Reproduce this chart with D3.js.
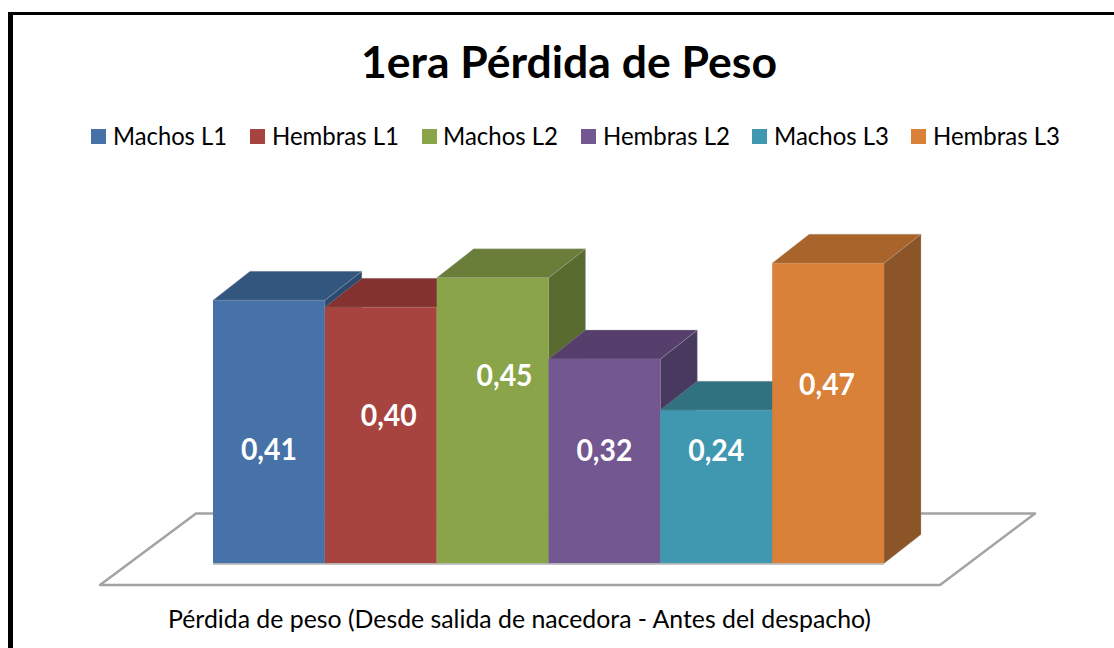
<!DOCTYPE html>
<html><head><meta charset="utf-8">
<script src="https://cdn.jsdelivr.net/npm/d3@7"></script>
<style>html,body{margin:0;padding:0;background:#fff}svg{display:block}text{font-family:Lato,"Open Sans",sans-serif}</style>
</head><body><svg id="c" width="1114" height="648"></svg>
<script>
const titleText = "1era Pérdida de Peso";
const axisCaption = "Pérdida de peso (Desde salida de nacedora - Antes del despacho)";
const categories = ["Machos L1","Hembras L1","Machos L2","Hembras L2","Machos L3","Hembras L3"];
const values = [0.412,0.401,0.447,0.32,0.24,0.47];
const frontColors = ["#4672a8","#a8443f","#8aa44a","#735790","#4097b0","#d98039"];
const topColors = ["#33567f","#843230","#6a7e39","#573f6d","#30727f","#a9642b"];
const sideColors = ["#2a4a70","#6e2a28","#5a6b30","#483a5e","#285f6f","#8c5527"];
const labelOffsets = [18,-19,-45,-10,-36,-28];
const labelShifts = [0,8,12,0,0,-1];
const legendSwatchX = [91,250,422,581,752,911];
const legendTextX = [113,272,443,603,774,933];
const legendTextW = [114,127,115,127,115,127];

const svg = d3.select("#c");
const x = d3.scaleBand().domain(categories).range([213,884]).padding(0);
const y = d3.scaleLinear().domain([0,0.5]).range([563.5,244]);
const dx = 37, dy = 29;
const line = d3.line();

// frame
svg.append("rect").attr("x",8).attr("y",12).attr("width",5).attr("height",636).attr("fill","#000");
svg.append("rect").attr("x",8).attr("y",12).attr("width",1106).attr("height",3).attr("fill","#000");

// title
svg.append("text").text(titleText).attr("x",569).attr("y",78).attr("text-anchor","middle")
  .attr("font-size",43).attr("font-weight",700).attr("fill","#000")
  .attr("textLength",416).attr("lengthAdjust","spacingAndGlyphs");

// legend
const lg = svg.append("g").selectAll("g").data(categories).join("g");
lg.append("rect").attr("x",(d,i)=>legendSwatchX[i]).attr("y",129).attr("width",15).attr("height",15)
  .attr("fill",(d,i)=>frontColors[i]);
lg.append("text").text(d=>d).attr("x",(d,i)=>legendTextX[i]).attr("y",145)
  .attr("font-size",25).attr("fill","#000")
  .attr("textLength",(d,i)=>legendTextW[i]).attr("lengthAdjust","spacingAndGlyphs");

// floor
svg.append("path").attr("d",line([[100,585],[196,513.5],[1035,513.5],[940,585]])+"Z")
  .attr("fill","#fff").attr("stroke","#a3a3a3").attr("stroke-width",2.5).attr("stroke-linejoin","round");

// bars: painter's order, left to right
const bars = svg.append("g").selectAll("g").data(categories).join("g");
const edge = "rgba(170,170,170,0.4)";
bars.append("path").attr("fill",(d,i)=>sideColors[i]).attr("stroke",edge).attr("stroke-width",.8)
  .attr("d",(d,i)=>{const r=x(d)+x.bandwidth(),t=y(values[i]),b=y(0);
    return line([[r,t],[r+dx,t-dy],[r+dx,b-dy],[r,b]])+"Z";});
bars.append("path").attr("fill",(d,i)=>topColors[i]).attr("stroke",edge).attr("stroke-width",.8)
  .attr("d",(d,i)=>{const l=x(d),r=l+x.bandwidth(),t=y(values[i]);
    return line([[l,t],[l+dx,t-dy],[r+dx,t-dy],[r,t]])+"Z";});
bars.append("rect").attr("x",d=>x(d)).attr("y",(d,i)=>y(values[i]))
  .attr("width",x.bandwidth()).attr("height",(d,i)=>y(0)-y(values[i]))
  .attr("fill",(d,i)=>frontColors[i]);
svg.append("line").attr("x1",x.range()[0]).attr("x2",x.range()[1]).attr("y1",y(0)+.5).attr("y2",y(0)+.5)
  .attr("stroke","#b0b0b0").attr("stroke-width",1.5);

// value labels
const fmt = v => v.toFixed(2).replace(".",",");
svg.append("g").selectAll("text").data(categories).join("text")
  .text((d,i)=>fmt(values[i]))
  .attr("x",(d,i)=>x(d)+x.bandwidth()/2+labelShifts[i])
  .attr("y",(d,i)=>(y(values[i])+y(0))/2+labelOffsets[i]+10)
  .attr("text-anchor","middle").attr("font-size",30).attr("font-weight",700).attr("fill","#fff")
  .attr("textLength",56).attr("lengthAdjust","spacingAndGlyphs");

// caption
svg.append("text").text(axisCaption).attr("x",168).attr("y",627.5)
  .attr("font-size",25).attr("fill","#000")
  .attr("textLength",703).attr("lengthAdjust","spacingAndGlyphs");
</script></body></html>
